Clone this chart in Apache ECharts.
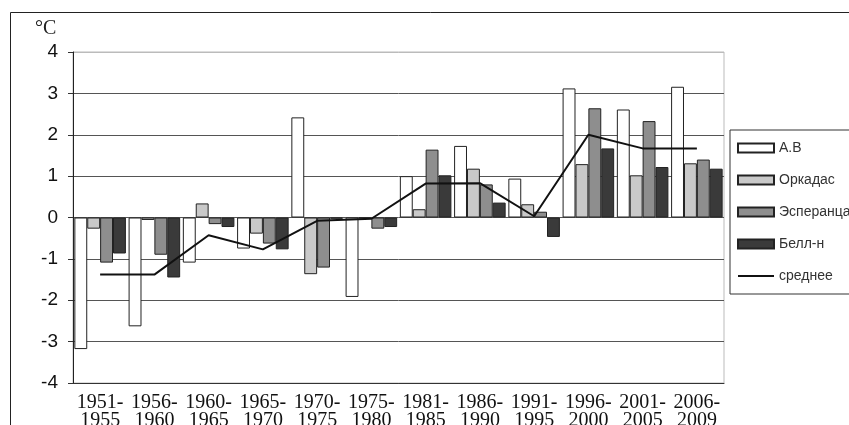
<!DOCTYPE html>
<html><head><meta charset="utf-8">
<script src="https://cdn.jsdelivr.net/npm/echarts@6/dist/echarts.min.js"></script>
<style>html,body{margin:0;padding:0;background:#fff;}#c{width:849px;height:425px;}</style>
</head><body><div id="c"></div>
<script>
const categories = ['1951-\n1955','1956-\n1960','1960-\n1965','1965-\n1970','1970-\n1975','1975-\n1980','1981-\n1985','1986-\n1990','1991-\n1995','1996-\n2000','2001-\n2005','2006-\n2009'];
const seriesNames = ['А.В','Оркадас','Эсперанца','Белл-н','среднее'];
const av        = [-3.18,-2.63,-1.09,-0.75, 2.42,-1.92, 1.00, 1.73, 0.94, 3.12, 2.61, 3.16];
const orkadas   = [-0.27,-0.06, 0.34,-0.39,-1.37,-0.02, 0.20, 1.18, 0.32, 1.29, 1.02, 1.31];
const esperanza = [-1.09,-0.90,-0.16,-0.63,-1.21,-0.27, 1.64, 0.80, 0.14, 2.64, 2.33, 1.40];
const bell      = [-0.87,-1.45,-0.23,-0.77,-0.03,-0.23, 1.02, 0.36,-0.47, 1.67, 1.22, 1.18];
const mean      = [-1.38,-1.38,-0.43,-0.77,-0.08,-0.03, 0.82, 0.83, 0.03, 2.00, 1.67, 1.67];
const yTicks = [-4,-3,-2,-1,0,1,2,3,4];

const chart = echarts.init(document.getElementById('c'), null, {renderer:'canvas'});
const barColors = ['#ffffff','#c9c9c9','#8e8e8e','#3a3a3a'];
const barData = [av, orkadas, esperanza, bell];
const series = barData.map((d,i)=>({
  name: seriesNames[i], type:'bar', data:d,
  barGap:'0%', barCategoryGap:'5%',
  itemStyle:{color:barColors[i], borderColor:'#222', borderWidth:1},
  emphasis:{disabled:true}, animation:false
}));
series.push({
  name: seriesNames[4], type:'line', data:mean, symbol:'none',
  lineStyle:{color:'#111', width:2}, itemStyle:{color:'#111'}, animation:false, z:5
});
chart.setOption({
  animation:false,
  backgroundColor:'#fff',
  grid:{left:73, right:125, top:52, bottom:42, show:true, borderColor:'#bbb', borderWidth:1,
        containLabel:false, outerBoundsMode:'none'},
  legend:{
    orient:'vertical', left:730, top:130,
    symbolKeepAspect:true,
    data:[{name:'А.В',icon:'rect'},{name:'Оркадас',icon:'rect'},{name:'Эсперанца',icon:'rect'},{name:'Белл-н',icon:'rect'},{name:'среднее',icon:'path://M0,0h36v2h-36z'}],
    itemWidth:36, itemHeight:9, itemGap:18,
    borderColor:'#333', borderWidth:1, padding:[11,60,11,7],
    textStyle:{fontFamily:'Liberation Sans', fontSize:14, color:'#333'}
  },
  xAxis:{
    type:'category', data:categories,
    axisLine:{onZero:false, lineStyle:{color:'#333', width:1}},
    axisTick:{inside:true, length:4, lineStyle:{color:'#555'}},
    axisLabel:{fontFamily:'Liberation Serif', fontSize:20, color:'#111', lineHeight:18, margin:11, interval:0}
  },
  yAxis:{
    type:'value', min:-4, max:4, interval:1,
    axisLine:{show:true, lineStyle:{color:'#222', width:1}},
    axisTick:{show:true, length:5, lineStyle:{color:'#333'}},
    axisLabel:{fontFamily:'Liberation Sans', fontSize:19, color:'#111', margin:15,
      formatter:v=> yTicks.indexOf(v)>=0 ? String(v) : ''},
    splitLine:{lineStyle:{color:['#333','#555','#555','#555','#555','#555','#555','#555','#bbb'], width:1}}
  },
  graphic:[
    {type:'rect', shape:{x:10.5,y:12.5,width:900,height:500}, style:{fill:'none', stroke:'#222', lineWidth:1}, silent:true, z:-10},
    {type:'text', left:35, top:19, style:{text:'°C', font:'20px "Liberation Serif"', fill:'#222'}}
  ],
  series:series
});
</script></body></html>
